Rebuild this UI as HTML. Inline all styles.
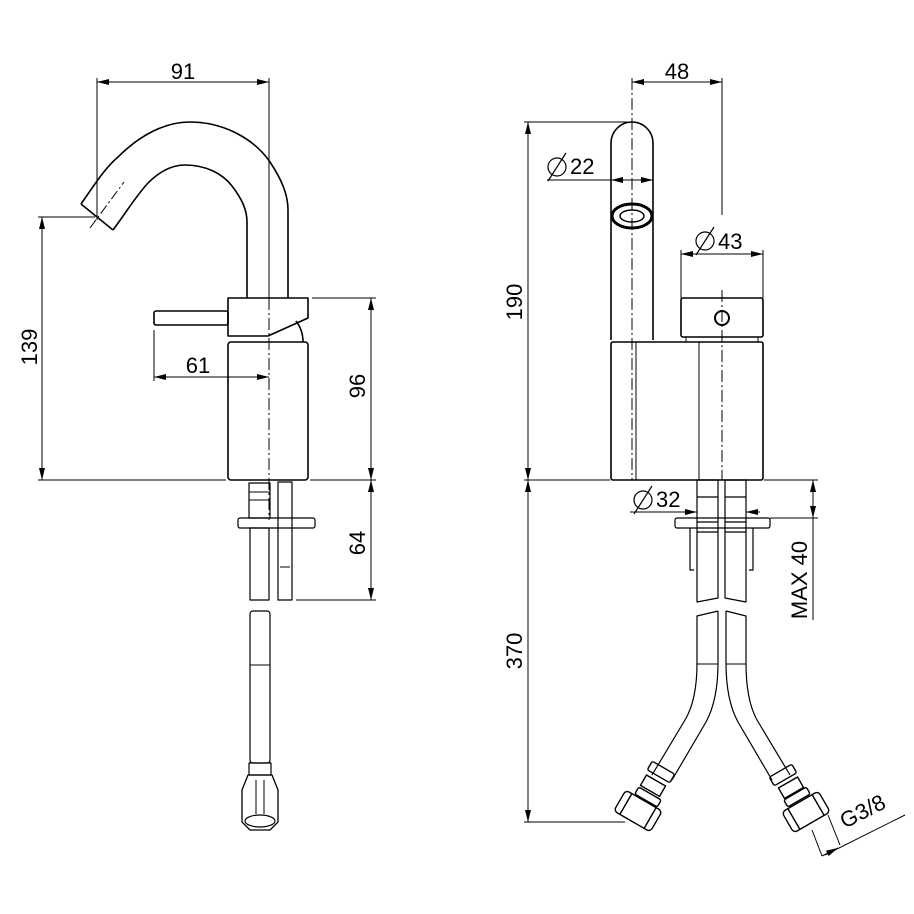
<!DOCTYPE html>
<html><head><style>html,body{margin:0;padding:0;background:#fff}svg{display:block}</style></head>
<body>
<svg width="914" height="914" viewBox="0 0 914 914" xmlns="http://www.w3.org/2000/svg" font-family="Liberation Sans, sans-serif" font-size="22">
<defs>
<marker id="a" viewBox="0 0 12 6" refX="12" refY="3" markerWidth="12" markerHeight="6" orient="auto-start-reverse" markerUnits="userSpaceOnUse"><path d="M0,0L12,3L0,6z" fill="#000"/></marker>
</defs>
<g fill="none" stroke="#000" stroke-width="1">
<line x1="97" y1="82" x2="269" y2="82" marker-start="url(#a)" marker-end="url(#a)"/>
<line x1="97" y1="78" x2="97" y2="220"/>
<line x1="269" y1="78" x2="269" y2="298"/>
<line x1="38" y1="217" x2="95" y2="217"/>
<line x1="42" y1="217" x2="42" y2="480" marker-start="url(#a)" marker-end="url(#a)"/>
<line x1="38" y1="480" x2="226" y2="480"/>
<line x1="310" y1="480" x2="376" y2="480"/>
<line x1="154" y1="330" x2="154" y2="381"/>
<line x1="154" y1="377" x2="269" y2="377" marker-start="url(#a)" marker-end="url(#a)"/>
<line x1="312" y1="298" x2="376" y2="298"/>
<line x1="371" y1="298" x2="371" y2="480" marker-start="url(#a)" marker-end="url(#a)"/>
<line x1="371" y1="480" x2="371" y2="600" marker-start="url(#a)" marker-end="url(#a)"/>
<line x1="296" y1="600" x2="376" y2="600"/>
<line x1="269" y1="298" x2="269" y2="520" stroke-dasharray="12,3,2,3"/>
<line x1="90" y1="228" x2="124" y2="182" stroke-dasharray="10,3,2,3"/>
</g>
<g fill="none" stroke="#000" stroke-width="1.6" stroke-linejoin="round">
<path d="M81,204 C95,184 105,168 118,157 C140,135 165,122 190,122 C225,122 255,140 270,162 C282,180 288,195 288,210 L288,298"/>
<path d="M113,230 C125,214 136,196 148,183 C160,171 172,165 185,165 C205,165 222,173 232,186 C242,199 247,210 247,222 L247,298"/>
<line x1="81" y1="204" x2="113" y2="230"/>
<path d="M228,298 L308,298 L308,318 L268,336 L228,336 Z"/>
<rect x="154" y="311" width="74" height="14" rx="2"/>
<path d="M296,321 Q303,330 303,342"/>
<rect x="228" y="342" width="80" height="138" rx="3"/>
<rect x="249" y="483" width="21" height="35" stroke-width="1.2"/>
<line x1="249" y1="492" x2="270" y2="492" stroke-width="1"/>
<line x1="249" y1="500" x2="270" y2="500" stroke-width="1"/>
<rect x="238" y="518" width="77" height="10" rx="2" stroke-width="1.2"/>
<rect x="250" y="528" width="19" height="72" stroke-width="1.2"/>
<rect x="278" y="482" width="14" height="118" stroke-width="1.2"/>
<line x1="280" y1="567" x2="290" y2="567" stroke-width="1"/>
<rect x="250" y="611" width="20" height="152" rx="3" stroke-width="1.2"/>
<line x1="250" y1="665" x2="270" y2="665" stroke-width="1"/>
<rect x="249" y="763" width="22" height="12" stroke-width="1.2"/>
<path d="M248,775 L272,775 L278,790 L278,822 L270,830 L250,830 L242,822 L242,790 Z" stroke-width="1.3"/>
<ellipse cx="260" cy="821" rx="15" ry="6" stroke-width="1.2"/>
<line x1="256" y1="780" x2="256" y2="814" stroke-width="1"/>
<line x1="264" y1="780" x2="264" y2="814" stroke-width="1"/>
</g>
<g fill="none" stroke="#000" stroke-width="1">
<line x1="632" y1="82" x2="722" y2="82" marker-start="url(#a)" marker-end="url(#a)"/>
<line x1="632" y1="78" x2="632" y2="480" stroke-dasharray="12,3,2,3"/>
<line x1="722" y1="78" x2="722" y2="215"/>
<line x1="722" y1="290" x2="722" y2="480" stroke-dasharray="12,3,2,3"/>
<line x1="547" y1="180" x2="653" y2="180"/>
<line x1="611" y1="180" x2="632" y2="180" marker-start="url(#a)"/>
<line x1="632" y1="180" x2="653" y2="180" marker-end="url(#a)"/>
<line x1="681" y1="254" x2="763" y2="254" marker-start="url(#a)" marker-end="url(#a)"/>
<line x1="681" y1="250" x2="681" y2="298"/>
<line x1="763" y1="250" x2="763" y2="298"/>
<line x1="524" y1="122" x2="630" y2="122"/>
<line x1="528" y1="122" x2="528" y2="480" marker-start="url(#a)" marker-end="url(#a)"/>
<line x1="524" y1="480" x2="610" y2="480"/>
<line x1="764" y1="480" x2="818" y2="480"/>
<line x1="528" y1="480" x2="528" y2="822" marker-start="url(#a)" marker-end="url(#a)"/>
<line x1="524" y1="822" x2="625" y2="822"/>
<line x1="813" y1="480" x2="813" y2="518" marker-start="url(#a)" marker-end="url(#a)"/>
<line x1="770" y1="518" x2="818" y2="518"/>
<line x1="813" y1="518" x2="813" y2="620"/>
<line x1="630" y1="512" x2="697" y2="512" marker-end="url(#a)"/>
<line x1="760" y1="512" x2="746" y2="512" marker-end="url(#a)"/>
<line x1="825" y1="855" x2="905" y2="815"/>
<line x1="812" y1="830" x2="822" y2="856"/>
<line x1="828" y1="815" x2="840" y2="845"/>
<line x1="822" y1="856" x2="838" y2="848" marker-end="url(#a)"/>
</g>
<g fill="none" stroke="#000" stroke-width="1.6" stroke-linejoin="round">
<path d="M611,340 L611,143 A21,21 0 0 1 653,143 L653,340"/>
<ellipse cx="632" cy="216" rx="20" ry="12" stroke-width="3"/>
<ellipse cx="632" cy="216" rx="12" ry="6" stroke-width="1.5"/>
<rect x="681" y="298" width="82" height="39" rx="2"/>
<circle cx="722" cy="318" r="7" stroke-width="2"/>
<line x1="686" y1="337" x2="686" y2="342" stroke-width="1"/>
<line x1="758" y1="337" x2="758" y2="342" stroke-width="1"/>
<rect x="611" y="342" width="152" height="138" rx="2"/>
<line x1="636" y1="342" x2="636" y2="480" stroke-width="1"/>
<line x1="699" y1="342" x2="699" y2="480" stroke-width="1"/>
<g stroke-width="1.2">
<rect x="697" y="480" width="21" height="52"/><rect x="725" y="480" width="21" height="52"/>
<line x1="697" y1="497" x2="718" y2="497"/><line x1="725" y1="497" x2="746" y2="497"/>
<line x1="697" y1="522" x2="718" y2="522"/><line x1="725" y1="522" x2="746" y2="522"/>
<rect x="675" y="518" width="95" height="10" rx="2"/>
<path d="M697,532 L697,602 L718,598 L718,532"/>
<path d="M725,532 L725,598 L746,602 L746,532"/>
<path d="M690,528 L690,570 L694,570 M753,528 L753,570 L749,570"/>
<path d="M718,611 L697,616 L697,663 Q697,700 685,720 L652,775"/>
<path d="M718,611 L718,663 Q718,700 706,722 L672,780"/>
<path d="M726,611 L746,616 L746,663 Q746,700 757,720 L790,775"/>
<path d="M726,611 L726,663 Q726,700 738,722 L772,780"/>
<line x1="697" y1="664" x2="718" y2="664" stroke-width="1"/>
<line x1="726" y1="664" x2="746" y2="664" stroke-width="1"/>
</g>
<g stroke-width="1.4">
<g transform="translate(661,772) rotate(30)"><rect x="-13" y="-5" width="26" height="10" rx="2"/></g>
<g transform="translate(654,784) rotate(30)"><rect x="-11" y="-4" width="22" height="12"/></g>
<g transform="translate(648,797) rotate(30)"><rect x="-13" y="-4" width="26" height="8" rx="2"/></g>
<g transform="translate(638,811) rotate(30)"><rect x="-21" y="-12" width="42" height="24" rx="4"/><line x1="-14" y1="-12" x2="-14" y2="12"/><line x1="14" y1="-12" x2="14" y2="12"/></g>
<g transform="translate(783,775) rotate(-30)"><rect x="-13" y="-5" width="26" height="10" rx="2"/></g>
<g transform="translate(790,786) rotate(-30)"><rect x="-11" y="-4" width="22" height="12"/></g>
<g transform="translate(797,797) rotate(-30)"><rect x="-13" y="-4" width="26" height="8" rx="2"/></g>
<g transform="translate(806,812) rotate(-30)"><rect x="-21" y="-12" width="42" height="24" rx="4"/><line x1="-14" y1="-12" x2="-14" y2="12"/><line x1="14" y1="-12" x2="14" y2="12"/></g>
</g>
</g>
<g fill="#000" stroke="none">
<text x="183" y="79" text-anchor="middle">91</text>
<text x="198" y="373" text-anchor="middle">61</text>
<text transform="translate(37,347) rotate(-90)" text-anchor="middle">139</text>
<text transform="translate(365,386) rotate(-90)" text-anchor="middle">96</text>
<text transform="translate(365,543) rotate(-90)" text-anchor="middle">64</text>
<text x="677" y="79" text-anchor="middle">48</text>
<text x="570" y="174">22</text>
<text x="718" y="249">43</text>
<text x="656" y="507">32</text>
<text transform="translate(522,302) rotate(-90)" text-anchor="middle">190</text>
<text transform="translate(522,651) rotate(-90)" text-anchor="middle">370</text>
<text transform="translate(807,580) rotate(-90)" text-anchor="middle">MAX 40</text>
<text transform="translate(866,818) rotate(-27)" text-anchor="middle">G3/8</text>
</g>
<g fill="none" stroke="#000" stroke-width="1.2">
<circle cx="557" cy="167" r="9"/><line x1="548" y1="181" x2="566" y2="153"/>
<circle cx="705" cy="241" r="9"/><line x1="696" y1="255" x2="714" y2="227"/>
<circle cx="643" cy="500" r="9"/><line x1="634" y1="514" x2="652" y2="486"/>
</g>
</svg>
</body></html>
